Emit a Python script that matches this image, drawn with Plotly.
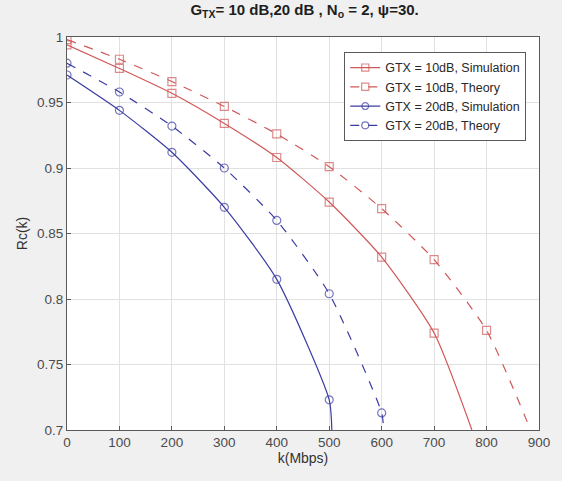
import plotly.graph_objects as go

# Data (k in Mbps, Rc(k) values); last point = where the curve leaves the axes (Rc=0.7)
k_10_sim = [0, 100, 200, 300, 400, 500, 600, 700, 772]
rc_10_sim = [0.994, 0.976, 0.957, 0.934, 0.908, 0.874, 0.832, 0.774, 0.700]
k_10_th = [0, 100, 200, 300, 400, 500, 600, 700, 800, 884]
rc_10_th = [0.998, 0.983, 0.966, 0.947, 0.926, 0.901, 0.869, 0.830, 0.776, 0.700]
k_20_sim = [0, 100, 200, 300, 400, 500, 505]
rc_20_sim = [0.971, 0.944, 0.912, 0.870, 0.815, 0.723, 0.700]
k_20_th = [0, 100, 200, 300, 400, 500, 600, 604]
rc_20_th = [0.980, 0.958, 0.932, 0.900, 0.860, 0.804, 0.713, 0.700]

x_ticks = [0, 100, 200, 300, 400, 500, 600, 700, 800, 900]
y_ticks = [0.7, 0.75, 0.8, 0.85, 0.9, 0.95, 1]
y_tick_labels = ["0.7", "0.75", "0.8", "0.85", "0.9", "0.95", "1"]

RED = "rgb(208,88,88)"
BLUE = "rgb(58,60,162)"
series = [
    ("GTX = 10dB, Simulation", k_10_sim, rc_10_sim, RED, "square-open", "solid"),
    ("GTX = 10dB, Theory", k_10_th, rc_10_th, RED, "square-open", "dash"),
    ("GTX = 20dB, Simulation", k_20_sim, rc_20_sim, BLUE, "circle-open", "solid"),
    ("GTX = 20dB, Theory", k_20_th, rc_20_th, BLUE, "circle-open", "dash"),
]

FONT = "Liberation Sans, Arial, sans-serif"

fig = go.Figure()
for name, xs, ys, col, sym, dash in series:
    sizes = [8] * (len(xs) - 1) + [0]
    fig.add_trace(go.Scatter(
        x=xs, y=ys, name=name, mode="lines+markers",
        line=dict(color=col, width=1.2, dash=dash, shape="spline", smoothing=0.6),
        marker=dict(symbol=sym, size=sizes, color=col, line=dict(width=1.2, color=col)),
        cliponaxis=True,
    ))

axis_common = dict(
    showgrid=True, gridcolor="rgb(225,225,225)", gridwidth=1,
    showline=True, linecolor="rgb(90,90,90)", linewidth=1, mirror=True,
    ticks="inside", ticklen=4, tickcolor="rgb(90,90,90)",
    zeroline=False,
    tickfont=dict(family=FONT, size=13.5, color="rgb(75,75,75)"),
)

fig.update_layout(
    width=562, height=481,
    paper_bgcolor="rgb(240,240,240)", plot_bgcolor="white",
    margin=dict(l=67, r=15, t=37, b=51),
    title=dict(
        text="<b>G<sub>TX</sub>= 10 dB,20 dB , N<sub>o</sub> = 2, ψ=30.</b>",
        x=0.542, xanchor="center", y=0.99, yanchor="top",
        font=dict(family=FONT, size=15, color="rgb(30,30,30)"),
    ),
    xaxis=dict(range=[0, 900], tickvals=x_ticks, **axis_common,
               title=dict(text="k(Mbps)", standoff=2,
                          font=dict(family=FONT, size=14, color="rgb(50,50,50)"))),
    yaxis=dict(range=[0.7, 1], tickvals=y_ticks, ticktext=y_tick_labels, **axis_common,
               title=dict(text="Rc(k)", standoff=6,
                          font=dict(family=FONT, size=14, color="rgb(50,50,50)"))),
    legend=dict(
        x=0.973, xanchor="right", y=0.962, yanchor="top",
        bgcolor="white", bordercolor="rgb(90,90,90)", borderwidth=1,
        font=dict(family=FONT, size=12.5, color="rgb(40,40,40)"),
        tracegroupgap=0, itemwidth=30,
    ),
)

fig.write_html("out.html")
